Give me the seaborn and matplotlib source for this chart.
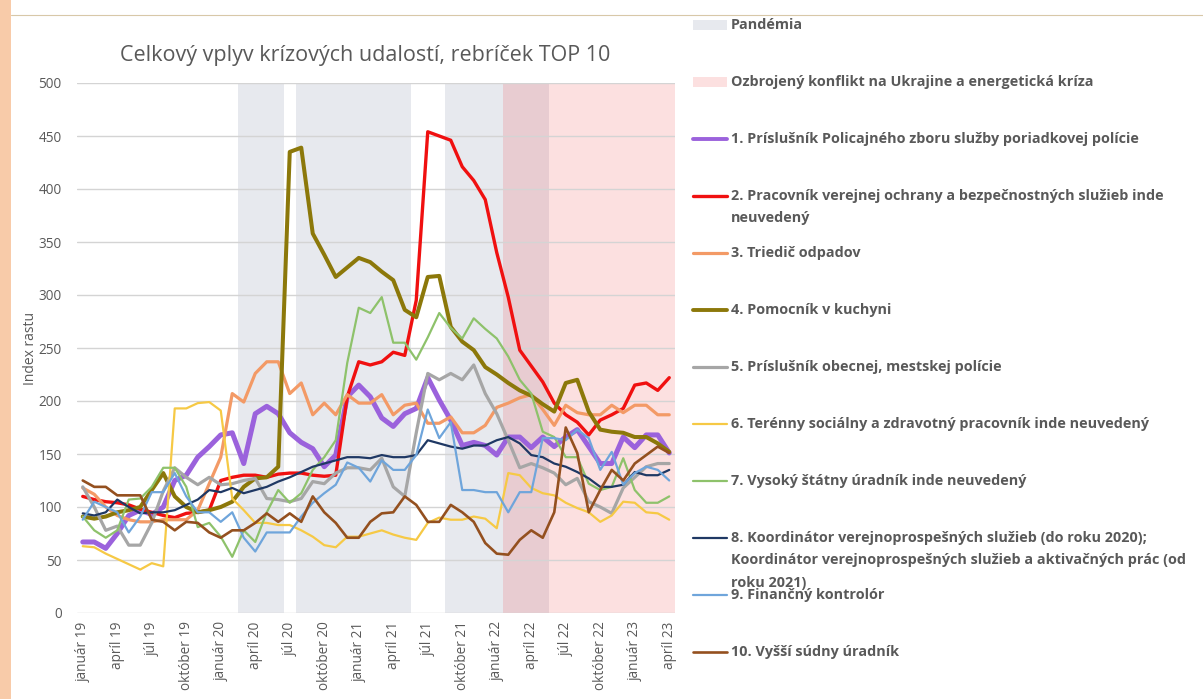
import matplotlib
matplotlib.use('Agg')
import matplotlib.pyplot as plt
from matplotlib.lines import Line2D
from matplotlib.patches import Rectangle
import pandas as pd
import seaborn as sns

month_names = ['január', 'február', 'marec', 'apríl', 'máj', 'jún', 'júl',
               'august', 'september', 'október', 'november', 'december']
months = [f'{m} {y}' for y in range(19, 24) for m in month_names][:52]

pandemia = [('marec 20', 'jún 20'), ('august 20', 'máj 21'), ('september 21', 'máj 22')]
konflikt = [('február 22', 'apríl 23')]

policia_pz = [67, 67, 61, 75, 92, 97, 93, 100, 125, 130, 147, 157, 168, 170, 141, 188, 195, 188,
              170, 161, 155, 138, 149, 204, 215, 204, 184, 176, 188, 193, 222, 201, 182, 158, 161, 158,
              149, 166, 166, 156, 166, 157, 166, 173, 157, 141, 141, 166, 156, 168, 168, 151]
ochrana = [110, 107, 105, 104, 102, 98, 95, 92, 90, 94, 95, 97, 125, 128, 130, 130, 128, 131,
           132, 132, 130, 129, 130, 204, 237, 234, 237, 246, 243, 295, 454, 450, 446, 421, 408, 390,
           340, 298, 248, 233, 218, 198, 187, 180, 168, 182, 187, 193, 215, 217, 210, 222]
triedic = [118, 112, 100, 92, 88, 86, 86, 88, 88, 88, 97, 122, 147, 207, 199, 226, 237, 237,
           207, 217, 187, 198, 187, 206, 198, 198, 206, 187, 196, 198, 179, 179, 185, 170, 170, 177,
           194, 198, 203, 206, 192, 177, 196, 189, 187, 187, 196, 189, 196, 196, 187, 187]
kuchyna = [91, 89, 91, 95, 97, 100, 116, 132, 110, 100, 95, 97, 100, 105, 119, 127, 128, 138,
           435, 439, 358, 338, 317, 326, 335, 331, 322, 314, 286, 279, 317, 318, 270, 256, 248, 232,
           225, 217, 210, 205, 197, 190, 217, 220, 190, 173, 171, 170, 166, 166, 160, 152]
mestska = [119, 100, 78, 82, 64, 64, 85, 115, 137, 128, 121, 128, 121, 122, 125, 127, 108, 107,
           105, 108, 124, 122, 132, 137, 137, 135, 146, 119, 110, 170, 226, 220, 226, 220, 234, 207,
           188, 163, 137, 141, 137, 132, 121, 127, 105, 100, 94, 118, 128, 138, 141, 141]
terenny = [63, 62, 56, 51, 46, 41, 47, 44, 193, 193, 198, 199, 191, 108, 97, 85, 85, 83,
           83, 78, 72, 64, 62, 72, 72, 75, 78, 74, 71, 69, 85, 90, 88, 88, 91, 89,
           80, 132, 130, 118, 113, 111, 104, 99, 95, 86, 92, 105, 104, 95, 94, 88]
statny = [91, 78, 71, 78, 107, 108, 119, 137, 137, 119, 81, 85, 72, 53, 78, 67, 95, 116,
          104, 113, 135, 147, 163, 236, 288, 283, 298, 255, 255, 239, 260, 283, 269, 259, 278, 268,
          259, 242, 220, 207, 171, 166, 147, 147, 122, 116, 119, 146, 116, 104, 104, 110]
koordinator = [94, 92, 95, 107, 100, 94, 95, 95, 97, 102, 107, 116, 114, 118, 113, 116, 119, 124,
               128, 133, 138, 141, 144, 147, 147, 146, 149, 147, 147, 149, 163, 160, 157, 155, 158, 158,
               163, 166, 160, 149, 147, 141, 138, 133, 127, 119, 119, 121, 133, 130, 130, 135]
kontrolor = [88, 105, 100, 95, 76, 91, 114, 114, 132, 110, 95, 95, 86, 95, 71, 58, 76, 76,
             76, 91, 104, 113, 121, 142, 137, 124, 144, 135, 135, 149, 192, 165, 180, 116, 116, 114,
             114, 95, 114, 114, 165, 165, 163, 173, 165, 135, 152, 121, 132, 138, 135, 125]
sudny = [125, 119, 119, 111, 111, 111, 88, 86, 78, 86, 85, 76, 71, 78, 78, 85, 94, 86,
         94, 86, 110, 95, 85, 71, 71, 86, 94, 95, 110, 102, 86, 86, 102, 95, 86, 66,
         56, 55, 69, 78, 71, 95, 175, 151, 95, 116, 135, 125, 141, 149, 157, 151]

names = ['1. Príslušník Policajného zboru služby poriadkovej polície',
         '2. Pracovník verejnej ochrany a bezpečnostných služieb inde\nneuvedený',
         '3. Triedič odpadov',
         '4. Pomocník v kuchyni',
         '5. Príslušník obecnej, mestskej polície',
         '6. Terénny sociálny a zdravotný pracovník inde neuvedený',
         '7. Vysoký štátny úradník inde neuvedený',
         '8. Koordinátor verejnoprospešných služieb (do roku 2020);\nKoordinátor verejnoprospešných služieb a aktivačných prác (od\nroku 2021)',
         '9. Finančný kontrolór',
         '10. Vyšší súdny úradník']
series = [policia_pz, ochrana, triedic, kuchyna, mestska, terenny, statny, koordinator, kontrolor, sudny]
colors = ['#9B62DC', '#F01010', '#F39A66', '#8C780A', '#A6A6A6',
          '#F6C945', '#8EC26B', '#1F3864', '#6FA5DB', '#94501F']
widths = [3.6, 2.4, 2.3, 2.9, 2.3, 1.6, 1.6, 1.6, 1.6, 1.9]

rows = []
for n, vals in zip(names, series):
    for i, v in enumerate(vals):
        rows.append({'serie': n, 'mesiac': i, 'hodnota': v})
df = pd.DataFrame(rows)

sns.set_style('white')
plt.rcParams['font.family'] = ['Open Sans', 'DejaVu Sans']
gray_txt = '#595959'

fig = plt.figure(figsize=(12.03, 6.99), dpi=100)
W, H = 1203, 699
ax = fig.add_axes([77 / W, 1 - 613 / H, (675 - 77) / W, (613 - 83) / H])

for a, b in pandemia:
    ax.axvspan(months.index(a) - 0.5, months.index(b) + 0.5, color='#E7E9EE', lw=0, zorder=0.3)
for a, b in konflikt:
    ax.axvspan(months.index(a) - 0.5, months.index(b) + 0.5, color='#EF1010', alpha=0.13, lw=0, zorder=0.4)

sns.lineplot(data=df, x='mesiac', y='hodnota', hue='serie', size='serie',
             hue_order=names, size_order=names,
             palette=dict(zip(names, colors)), sizes=dict(zip(names, widths)),
             estimator=None, legend=False, ax=ax)

ax.set_xlim(-0.5, 51.5)
ax.set_ylim(0, 500)
ax.set_yticks(range(0, 501, 50))
ax.set_xticks(range(0, 52, 3))
ax.set_xticklabels(months[::3], rotation=90)
ax.tick_params(axis='both', length=0, labelsize=9.8, colors=gray_txt)
ax.tick_params(axis='y', pad=11)
ax.tick_params(axis='x', pad=6)
ax.set_axisbelow('line')
ax.yaxis.grid(True, color='#D4D4D4', lw=1)
ax.xaxis.grid(False)
for s in ax.spines.values():
    s.set_visible(False)
ax.set_xlabel('')
ax.set_ylabel('Index rastu', fontsize=10, color=gray_txt)
ax.yaxis.set_label_coords(-0.066, 0.5)

fig.text(365 / W, 1 - 55 / H, 'Celkový vplyv krízových udalostí, rebríček TOP 10',
         ha='center', va='center', fontsize=15.5, color=gray_txt)

# legenda vpravo
leg_labels = ['Pandémia', 'Ozbrojený konflikt na Ukrajine a energetická kríza'] + names
x0, x1, xt = 693 / W, 727 / W, 731 / W
for k, lab in enumerate(leg_labels):
    yc = 1 - (25 + 57 * k) / H
    if k == 0:
        fig.patches.append(Rectangle((x0, yc - 5 / H), x1 - x0, 10 / H, transform=fig.transFigure,
                                     color='#E7E9EE', lw=0))
    elif k == 1:
        fig.patches.append(Rectangle((x0, yc - 5 / H), x1 - x0, 10 / H, transform=fig.transFigure,
                                     color='#FCE0E0', lw=0))
    else:
        j = k - 2
        fig.lines.append(Line2D([x0, x1], [yc, yc], transform=fig.transFigure,
                                color=colors[j], lw=min(widths[j], 2.8)))
    fig.text(xt, yc + 7 / H, lab, ha='left', va='top', fontsize=10.4, color=gray_txt,
             fontweight='bold', linespacing=1.75)

# okraj snímky
fig.patches.append(Rectangle((0, 0), 11 / W, 1, transform=fig.transFigure, color='#F8CBA9', lw=0))
fig.lines.append(Line2D([11 / W, 1], [1 - 15 / H, 1 - 15 / H], transform=fig.transFigure,
                        color='#D8C8A8', lw=0.8))

fig.savefig('out.png', dpi=100)
